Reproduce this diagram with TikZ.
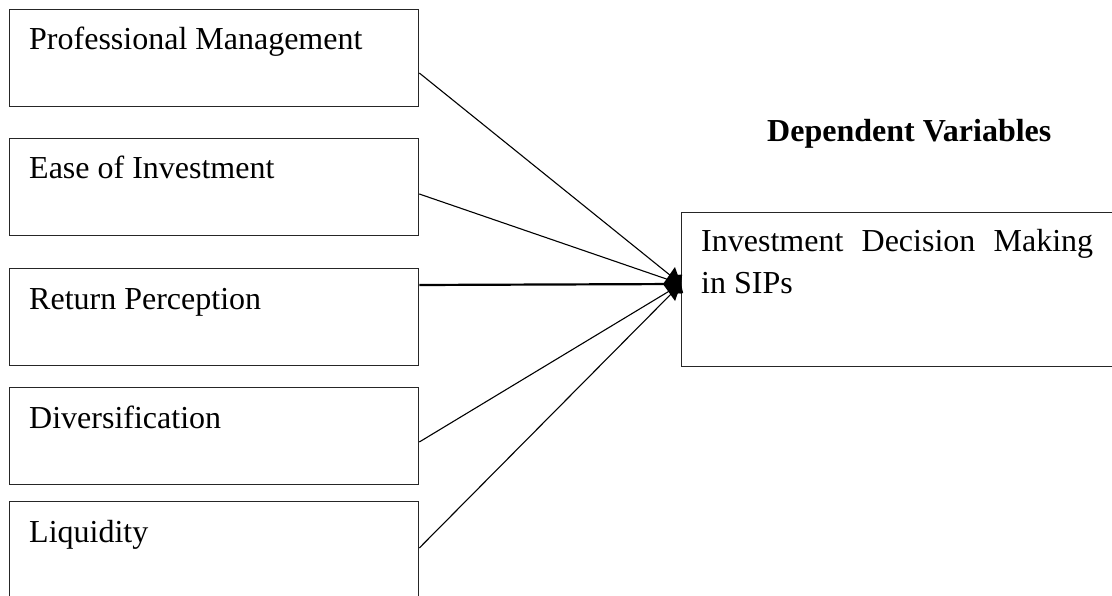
\documentclass[tikz,border=0pt]{standalone}
\usepackage{fontspec}
\setmainfont{Liberation Serif}
\usetikzlibrary{arrows.meta}
\begin{document}
\begin{tikzpicture}[x=1pt,y=-1pt,
  box/.style={draw=black!85,line width=1.3pt,rectangle,anchor=north west,inner sep=0pt},
  lbox/.style={box,minimum width=409pt,minimum height=97pt},
  txt/.style={anchor=base west,inner sep=0pt,font=\fontsize{32}{42}\selectfont},
  conn/.style={line width=1.1pt,-{Kite[length=14pt,width=16pt,inset=9pt]}},
  mainconn/.style={line width=2.2pt,-{Kite[length=18pt,width=34pt,inset=12pt]}}]
\useasboundingbox (0,0) rectangle (1112,596);
\clip (0,0) rectangle (1112,596);
\fill[white] (0,0) rectangle (1112,596);
% independent variable boxes
\node[lbox] (pm) at (9,9) {};
\node[lbox] (ei) at (9,138) {};
\node[lbox] (rp) at (9,268) {};
\node[lbox] (dv) at (9,387) {};
\node[lbox] (lq) at (9,501) {};
\node[txt] (tpm) at (29,50) {Professional Management};
\node[txt] (tei) at (29,179) {Ease of Investment};
\node[txt] (trp) at (29,309) {Return Perception};
\node[txt] (tdv) at (29,428) {Diversification};
\node[txt] (tlq) at (29,542) {Liquidity};
% dependent variable
\node[box,minimum width=460pt,minimum height=154pt] (idm) at (681,212) {};
\node[txt,text width=392pt,align=justify] (tidm) at (701,252) {Investment Decision Making in SIPs};
\node[anchor=base west,inner sep=0pt,font=\fontsize{32}{38}\selectfont\bfseries] (dep) at (767,142) {Dependent Variables};
% connectors
\coordinate (tip) at (idm.west |- 0,284);
\coordinate (s1) at (pm.east |- 0,73);
\coordinate (s2) at (ei.east |- 0,194);
\coordinate (s3) at (rp.east |- 0,285);
\coordinate (s4) at (dv.east |- 0,442);
\coordinate (s5) at (lq.east |- 0,548);
\draw[conn] (s1) -- (tip);
\draw[conn] (s2) -- (tip);
\draw[conn] (s4) -- (tip);
\draw[conn] (s5) -- (tip);
\draw[mainconn] (s3) -- (tip);
\end{tikzpicture}
\end{document}
